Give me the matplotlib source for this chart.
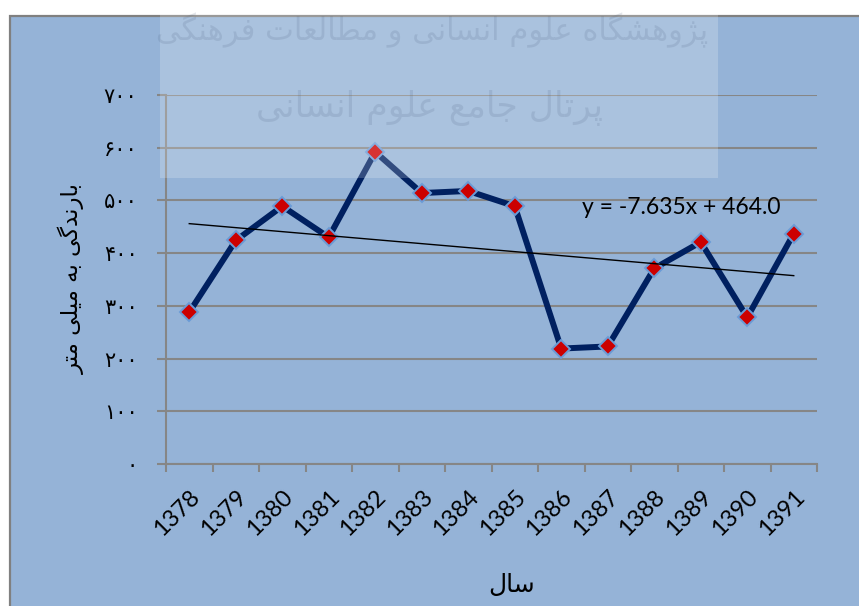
import matplotlib.pyplot as plt
import matplotlib.patches as mpatches
import numpy as np

# data
years = ['1378', '1379', '1380', '1381', '1382', '1383', '1384',
         '1385', '1386', '1387', '1388', '1389', '1390', '1391']
rainfall = [288, 424, 489, 430, 592, 514, 518, 489, 219, 223, 371, 421, 278, 437]
ytick_vals = [0, 100, 200, 300, 400, 500, 600, 700]
ytick_labels = ['۰', '۱۰۰', '۲۰۰', '۳۰۰', '۴۰۰', '۵۰۰', '۶۰۰', '۷۰۰']
trend_label = 'y = -7.635x + 464.0'
ylabel = 'بارندگی به میلی متر'
xlabel = 'سال'
wm_line1 = 'پژوهشگاه علوم انسانی و مطالعات فرهنگی'
wm_line2 = 'پرتال جامع علوم انسانی'

# minimal arabic/persian shaping (isolated, final, initial, medial)
FORMS = {
    'ا': ('\uFE8D', '\uFE8E', None, None),
    'ب': ('\uFE8F', '\uFE90', '\uFE91', '\uFE92'),
    'پ': ('\uFB56', '\uFB57', '\uFB58', '\uFB59'),
    'ت': ('\uFE95', '\uFE96', '\uFE97', '\uFE98'),
    'ج': ('\uFE9D', '\uFE9E', '\uFE9F', '\uFEA0'),
    'د': ('\uFEA9', '\uFEAA', None, None),
    'ر': ('\uFEAD', '\uFEAE', None, None),
    'ژ': ('\uFB8A', '\uFB8B', None, None),
    'س': ('\uFEB1', '\uFEB2', '\uFEB3', '\uFEB4'),
    'ش': ('\uFEB5', '\uFEB6', '\uFEB7', '\uFEB8'),
    'ط': ('\uFEC1', '\uFEC2', '\uFEC3', '\uFEC4'),
    'ع': ('\uFEC9', '\uFECA', '\uFECB', '\uFECC'),
    'ف': ('\uFED1', '\uFED2', '\uFED3', '\uFED4'),
    'گ': ('\uFB92', '\uFB93', '\uFB94', '\uFB95'),
    'ل': ('\uFEDD', '\uFEDE', '\uFEDF', '\uFEE0'),
    'م': ('\uFEE1', '\uFEE2', '\uFEE3', '\uFEE4'),
    'ن': ('\uFEE5', '\uFEE6', '\uFEE7', '\uFEE8'),
    'ه': ('\uFEE9', '\uFEEA', '\uFEEB', '\uFEEC'),
    'و': ('\uFEED', '\uFEEE', None, None),
    'ی': ('\uFBFC', '\uFBFD', '\uFBFE', '\uFBFF'),
}


def shape(s):
    out = []
    for i, c in enumerate(s):
        if c not in FORMS:
            out.append(c)
            continue
        f = FORMS[c]
        prev = s[i - 1] if i > 0 else ''
        nxt = s[i + 1] if i < len(s) - 1 else ''
        jp = prev in FORMS and FORMS[prev][2] is not None
        jn = nxt in FORMS and f[2] is not None
        if jp and jn:
            out.append(f[3])
        elif jp:
            out.append(f[1])
        elif jn:
            out.append(f[2])
        else:
            out.append(f[0])
    return ''.join(out)[::-1]


W, H = 859, 606


def fx(x):
    return x / W


def fy(y):
    return 1 - y / H


fig = plt.figure(figsize=(8.59, 6.06), dpi=100)
fig.patch.set_facecolor('white')

# chart area background with grey border
bg = mpatches.Rectangle((fx(10), fy(660)), (900 - 10) / W, (660 - 16) / H,
                        transform=fig.transFigure, facecolor='#95B3D7',
                        edgecolor='#808080', linewidth=1.6, zorder=-5)
fig.add_artist(bg)

ax = fig.add_axes([fx(166), fy(464), (817 - 166) / W, (464 - 95) / H])
ax.set_facecolor('none')

x = np.arange(len(years))
ax.plot(x, rainfall, color='#002060', lw=4.3, marker='D', markersize=9.5,
        markerfacecolor='#CC0000', markeredgecolor='#6A9BD6',
        markeredgewidth=1.4, zorder=3)

# linear trendline
coef = np.polyfit(x + 1, rainfall, 1)
ax.plot(x, np.polyval(coef, x + 1), color='black', lw=1.0, zorder=4)

ax.set_xlim(-0.5, len(years) - 0.5)
ax.set_ylim(0, 700)
ax.set_yticks(ytick_vals)
ax.set_yticklabels(ytick_labels, family='DejaVu Sans', fontsize=15)
ax.yaxis.grid(True, color='#868686', lw=1.5)
ax.set_axisbelow(True)

ax.set_xticks(np.arange(-0.5, len(years), 1))
ax.set_xticklabels([])
ax.set_xticks(x, minor=True)
ax.set_xticklabels(years, minor=True, rotation=45, ha='right', va='top',
                   rotation_mode='anchor', family='Lato', fontsize=17)
ax.tick_params(axis='x', which='major', length=6, width=1.5, color='#868686')
ax.tick_params(axis='x', which='minor', length=0, pad=16)
ax.tick_params(axis='y', length=6.5, width=1.5, color='#868686', pad=14)

for side in ['top', 'right']:
    ax.spines[side].set_visible(False)
for side in ['left', 'bottom']:
    ax.spines[side].set_color('#868686')
    ax.spines[side].set_linewidth(1.5)

fig.text(fx(582), fy(207), trend_label, family='Lato', fontsize=16.5,
         ha='left', va='center')
fig.text(fx(72), fy(279), shape(ylabel), family='DejaVu Sans', fontsize=16.5,
         rotation=90, ha='center', va='center')
fig.text(fx(512), fy(585), shape(xlabel), family='DejaVu Sans', fontsize=18,
         ha='center', va='center')

# watermark box and text on top
wm = mpatches.Rectangle((fx(160), fy(178)), (718 - 160) / W, 178 / H,
                        transform=fig.transFigure, facecolor='white',
                        alpha=0.2, edgecolor='none', zorder=10)
fig.add_artist(wm)
fig.text(fx(432), fy(30), shape(wm_line1), family='DejaVu Sans', fontsize=22,
         color='#4a5d7a', alpha=0.15, ha='center', va='center', zorder=11)
fig.text(fx(430), fy(108), shape(wm_line2), family='DejaVu Sans', fontsize=25,
         color='#4a5d7a', alpha=0.15, ha='center', va='center', zorder=11)

fig.savefig('out.png', dpi=100)
